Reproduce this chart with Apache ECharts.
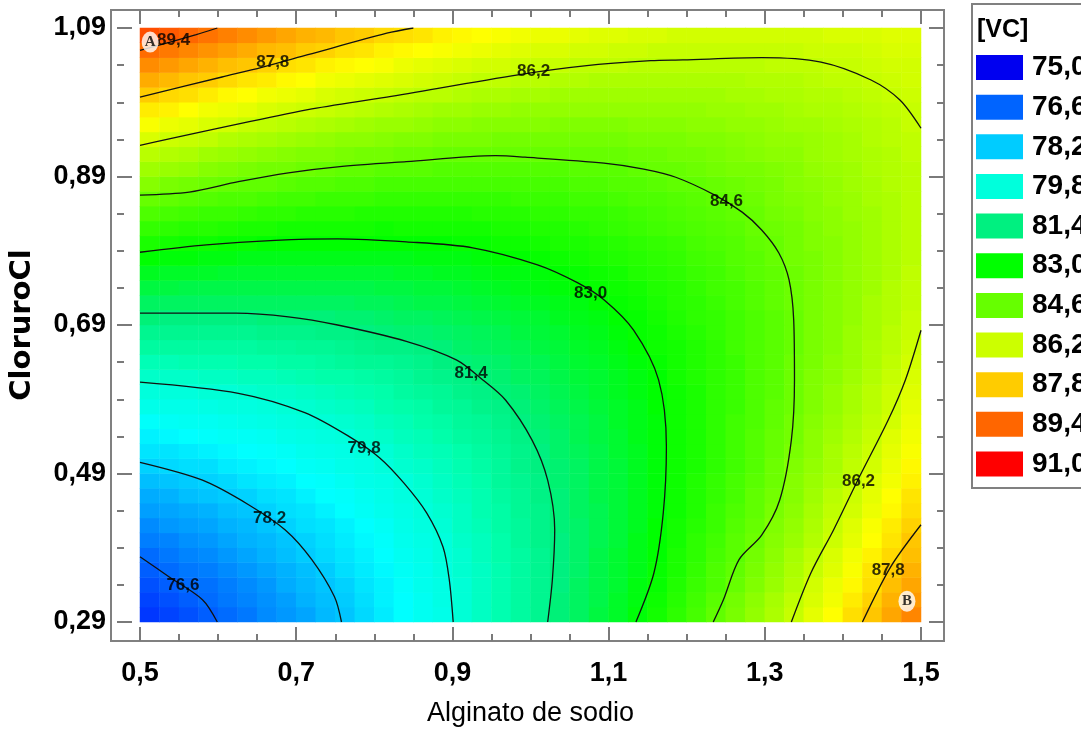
<!DOCTYPE html>
<html>
<head>
<meta charset="utf-8">
<script src="https://cdn.jsdelivr.net/npm/echarts@6/dist/echarts.min.js"></script>
<style>
  html, body { margin: 0; background: #fff; }
  #chart { width: 1081px; height: 734px; }
</style>
</head>
<body>
<div id="chart"></div>
<script>
const SANS = "'Liberation Sans', Arial, sans-serif";

// cell centres of the response surface (Alginato de sodio / CloruroCl)
const xCells = [0.5125, 0.5375, 0.5625, 0.5875, 0.6125, 0.6375, 0.6625, 0.6875, 0.7125, 0.7375,
                0.7625, 0.7875, 0.8125, 0.8375, 0.8625, 0.8875, 0.9125, 0.9375, 0.9625, 0.9875,
                1.0125, 1.0375, 1.0625, 1.0875, 1.1125, 1.1375, 1.1625, 1.1875, 1.2125, 1.2375,
                1.2625, 1.2875, 1.3125, 1.3375, 1.3625, 1.3875, 1.4125, 1.4375, 1.4625, 1.4875];
const yCells = [0.30, 0.32, 0.34, 0.36, 0.38, 0.40, 0.42, 0.44, 0.46, 0.48,
                0.50, 0.52, 0.54, 0.56, 0.58, 0.60, 0.62, 0.64, 0.66, 0.68,
                0.70, 0.72, 0.74, 0.76, 0.78, 0.80, 0.82, 0.84, 0.86, 0.88,
                0.90, 0.92, 0.94, 0.96, 0.98, 1.00, 1.02, 1.04, 1.06, 1.08];

// [VC] read row by row, bottom (0,30) to top (1,08)
const r030 = [75.9,76.1,76.3,76.5,76.7,76.9,77.2,77.4,77.6,77.9,78.1,78.4,78.7,79.0,79.3,79.5,79.9,80.2,80.5,80.8,81.1,81.5,81.8,82.2,82.5,82.9,83.3,83.7,84.1,84.5,84.9,85.3,85.7,86.1,86.6,87.0,87.5,87.9,88.4,88.9];
const r032 = [76.1,76.3,76.5,76.7,76.9,77.1,77.3,77.5,77.8,78.0,78.2,78.5,78.8,79.0,79.3,79.6,79.9,80.2,80.5,80.8,81.1,81.5,81.8,82.1,82.5,82.8,83.2,83.6,84.0,84.4,84.8,85.2,85.6,86.0,86.4,86.8,87.3,87.7,88.2,88.6];
const r034 = [76.3,76.5,76.7,76.8,77.0,77.2,77.4,77.7,77.9,78.1,78.3,78.6,78.8,79.1,79.4,79.6,79.9,80.2,80.5,80.8,81.1,81.4,81.8,82.1,82.4,82.8,83.1,83.5,83.9,84.2,84.6,85.0,85.4,85.8,86.3,86.7,87.1,87.5,88.0,88.4];
const r036 = [76.5,76.7,76.9,77.0,77.2,77.4,77.6,77.8,78.0,78.2,78.5,78.7,78.9,79.2,79.4,79.7,80.0,80.2,80.5,80.8,81.1,81.4,81.7,82.1,82.4,82.7,83.1,83.4,83.8,84.2,84.5,84.9,85.3,85.7,86.1,86.5,86.9,87.4,87.8,88.2];
const r038 = [76.7,76.9,77.1,77.2,77.4,77.6,77.8,78.0,78.2,78.4,78.6,78.8,79.0,79.3,79.5,79.8,80.0,80.3,80.6,80.8,81.1,81.4,81.7,82.1,82.4,82.7,83.0,83.4,83.7,84.1,84.4,84.8,85.2,85.6,86.0,86.4,86.8,87.2,87.6,88.0];
const r040 = [77.0,77.1,77.3,77.4,77.6,77.8,77.9,78.1,78.3,78.5,78.7,78.9,79.1,79.4,79.6,79.8,80.1,80.3,80.6,80.9,81.2,81.4,81.7,82.0,82.3,82.7,83.0,83.3,83.7,84.0,84.4,84.7,85.1,85.4,85.8,86.2,86.6,87.0,87.4,87.9];
const r042 = [77.2,77.4,77.5,77.6,77.8,77.9,78.1,78.3,78.5,78.6,78.8,79.0,79.2,79.5,79.7,79.9,80.2,80.4,80.7,80.9,81.2,81.5,81.7,82.0,82.3,82.6,83.0,83.3,83.6,83.9,84.3,84.6,85.0,85.3,85.7,86.1,86.5,86.9,87.3,87.7];
const r044 = [77.5,77.6,77.7,77.8,78.0,78.1,78.3,78.5,78.6,78.8,79.0,79.2,79.4,79.6,79.8,80.0,80.2,80.5,80.7,81.0,81.2,81.5,81.8,82.0,82.3,82.6,82.9,83.2,83.5,83.9,84.2,84.5,84.9,85.2,85.6,86.0,86.3,86.7,87.1,87.5];
const r046 = [77.7,77.8,78.0,78.1,78.2,78.3,78.5,78.6,78.8,79.0,79.1,79.3,79.5,79.7,79.9,80.1,80.3,80.5,80.8,81.0,81.3,81.5,81.8,82.1,82.3,82.6,82.9,83.2,83.5,83.8,84.1,84.5,84.8,85.1,85.5,85.9,86.2,86.6,87.0,87.4];
const r048 = [78.0,78.1,78.2,78.3,78.4,78.6,78.7,78.8,79.0,79.1,79.3,79.5,79.6,79.8,80.0,80.2,80.4,80.6,80.9,81.1,81.3,81.6,81.8,82.1,82.3,82.6,82.9,83.2,83.5,83.8,84.1,84.4,84.7,85.1,85.4,85.7,86.1,86.5,86.8,87.2];
const r050 = [78.3,78.4,78.5,78.5,78.7,78.8,78.9,79.0,79.2,79.3,79.5,79.6,79.8,80.0,80.1,80.3,80.5,80.7,80.9,81.2,81.4,81.6,81.8,82.1,82.3,82.6,82.9,83.2,83.4,83.7,84.0,84.3,84.7,85.0,85.3,85.6,86.0,86.3,86.7,87.1];
const r052 = [78.6,78.6,78.7,78.8,78.9,79.0,79.1,79.2,79.4,79.5,79.6,79.8,79.9,80.1,80.3,80.4,80.6,80.8,81.0,81.2,81.4,81.7,81.9,82.1,82.4,82.6,82.9,83.2,83.4,83.7,84.0,84.3,84.6,84.9,85.2,85.6,85.9,86.2,86.6,86.9];
const r054 = [78.8,78.9,79.0,79.1,79.2,79.2,79.3,79.5,79.6,79.7,79.8,80.0,80.1,80.3,80.4,80.6,80.8,80.9,81.1,81.3,81.5,81.7,82.0,82.2,82.4,82.7,82.9,83.2,83.4,83.7,84.0,84.3,84.6,84.8,85.2,85.5,85.8,86.1,86.5,86.8];
const r056 = [79.1,79.2,79.3,79.3,79.4,79.5,79.6,79.7,79.8,79.9,80.0,80.1,80.3,80.4,80.6,80.7,80.9,81.0,81.2,81.4,81.6,81.8,82.0,82.2,82.5,82.7,82.9,83.2,83.4,83.7,84.0,84.2,84.5,84.8,85.1,85.4,85.7,86.0,86.3,86.7];
const r058 = [79.5,79.5,79.5,79.6,79.7,79.7,79.8,79.9,80.0,80.1,80.2,80.3,80.5,80.6,80.7,80.9,81.0,81.2,81.3,81.5,81.7,81.9,82.1,82.3,82.5,82.7,83.0,83.2,83.4,83.7,83.9,84.2,84.5,84.7,85.0,85.3,85.6,85.9,86.2,86.6];
const r060 = [79.8,79.8,79.8,79.9,79.9,80.0,80.1,80.1,80.2,80.3,80.4,80.5,80.6,80.8,80.9,81.0,81.2,81.3,81.5,81.6,81.8,82.0,82.2,82.4,82.6,82.8,83.0,83.2,83.4,83.7,83.9,84.2,84.4,84.7,85.0,85.3,85.6,85.9,86.2,86.5];
const r062 = [80.1,80.1,80.1,80.2,80.2,80.3,80.3,80.4,80.5,80.6,80.6,80.7,80.8,80.9,81.1,81.2,81.3,81.5,81.6,81.8,81.9,82.1,82.3,82.4,82.6,82.8,83.0,83.3,83.5,83.7,83.9,84.2,84.4,84.7,85.0,85.2,85.5,85.8,86.1,86.4];
const r064 = [80.4,80.4,80.5,80.5,80.5,80.6,80.6,80.7,80.7,80.8,80.9,81.0,81.0,81.1,81.2,81.4,81.5,81.6,81.7,81.9,82.0,82.2,82.4,82.5,82.7,82.9,83.1,83.3,83.5,83.7,83.9,84.2,84.4,84.7,84.9,85.2,85.4,85.7,86.0,86.3];
const r066 = [80.8,80.8,80.8,80.8,80.8,80.8,80.9,80.9,81.0,81.0,81.1,81.2,81.3,81.3,81.4,81.5,81.7,81.8,81.9,82.0,82.2,82.3,82.5,82.6,82.8,83.0,83.2,83.3,83.5,83.7,84.0,84.2,84.4,84.6,84.9,85.1,85.4,85.7,85.9,86.2];
const r068 = [81.1,81.1,81.1,81.1,81.1,81.1,81.2,81.2,81.2,81.3,81.3,81.4,81.5,81.6,81.6,81.7,81.8,81.9,82.0,82.2,82.3,82.4,82.6,82.7,82.9,83.1,83.2,83.4,83.6,83.8,84.0,84.2,84.4,84.6,84.9,85.1,85.4,85.6,85.9,86.1];
const r070 = [81.5,81.4,81.4,81.4,81.4,81.4,81.5,81.5,81.5,81.5,81.6,81.6,81.7,81.8,81.8,81.9,82.0,82.1,82.2,82.3,82.4,82.6,82.7,82.8,83.0,83.1,83.3,83.5,83.7,83.8,84.0,84.2,84.4,84.6,84.9,85.1,85.3,85.6,85.8,86.1];
const r072 = [81.8,81.8,81.8,81.8,81.8,81.8,81.8,81.8,81.8,81.8,81.8,81.9,81.9,82.0,82.1,82.1,82.2,82.3,82.4,82.5,82.6,82.7,82.8,83.0,83.1,83.2,83.4,83.6,83.7,83.9,84.1,84.3,84.5,84.7,84.9,85.1,85.3,85.6,85.8,86.0];
const r074 = [82.2,82.2,82.1,82.1,82.1,82.1,82.1,82.1,82.1,82.1,82.1,82.1,82.2,82.2,82.3,82.3,82.4,82.5,82.6,82.7,82.8,82.9,83.0,83.1,83.2,83.3,83.5,83.6,83.8,84.0,84.1,84.3,84.5,84.7,84.9,85.1,85.3,85.5,85.8,86.0];
const r076 = [82.6,82.5,82.5,82.5,82.4,82.4,82.4,82.4,82.4,82.4,82.4,82.4,82.4,82.5,82.5,82.6,82.6,82.7,82.8,82.8,82.9,83.0,83.1,83.2,83.3,83.5,83.6,83.7,83.9,84.0,84.2,84.4,84.5,84.7,84.9,85.1,85.3,85.5,85.7,86.0];
const r078 = [83.0,82.9,82.9,82.8,82.8,82.7,82.7,82.7,82.7,82.7,82.7,82.7,82.7,82.7,82.8,82.8,82.8,82.9,83.0,83.0,83.1,83.2,83.3,83.4,83.5,83.6,83.7,83.8,84.0,84.1,84.3,84.4,84.6,84.8,84.9,85.1,85.3,85.5,85.7,85.9];
const r080 = [83.4,83.3,83.2,83.2,83.1,83.1,83.0,83.0,83.0,83.0,83.0,83.0,83.0,83.0,83.0,83.0,83.1,83.1,83.2,83.2,83.3,83.4,83.4,83.5,83.6,83.7,83.8,83.9,84.1,84.2,84.3,84.5,84.6,84.8,85.0,85.1,85.3,85.5,85.7,85.9];
const r082 = [83.8,83.7,83.6,83.6,83.5,83.4,83.4,83.3,83.3,83.3,83.3,83.3,83.2,83.3,83.3,83.3,83.3,83.3,83.4,83.4,83.5,83.5,83.6,83.7,83.8,83.9,84.0,84.1,84.2,84.3,84.4,84.6,84.7,84.8,85.0,85.2,85.3,85.5,85.7,85.9];
const r084 = [84.2,84.1,84.0,83.9,83.9,83.8,83.7,83.7,83.6,83.6,83.6,83.5,83.5,83.5,83.5,83.5,83.5,83.6,83.6,83.6,83.7,83.7,83.8,83.8,83.9,84.0,84.1,84.2,84.3,84.4,84.5,84.6,84.8,84.9,85.1,85.2,85.4,85.5,85.7,85.9];
const r086 = [84.6,84.5,84.4,84.3,84.2,84.2,84.1,84.0,84.0,83.9,83.9,83.9,83.8,83.8,83.8,83.8,83.8,83.8,83.8,83.9,83.9,83.9,84.0,84.0,84.1,84.2,84.2,84.3,84.4,84.5,84.6,84.7,84.9,85.0,85.1,85.3,85.4,85.6,85.7,85.9];
const r088 = [85.1,84.9,84.8,84.7,84.6,84.5,84.5,84.4,84.3,84.3,84.2,84.2,84.1,84.1,84.1,84.1,84.1,84.1,84.1,84.1,84.1,84.1,84.2,84.2,84.3,84.3,84.4,84.5,84.5,84.6,84.7,84.8,84.9,85.1,85.2,85.3,85.5,85.6,85.8,85.9];
const r090 = [85.5,85.4,85.3,85.1,85.0,84.9,84.8,84.8,84.7,84.6,84.5,84.5,84.4,84.4,84.4,84.3,84.3,84.3,84.3,84.3,84.3,84.3,84.4,84.4,84.4,84.5,84.6,84.6,84.7,84.8,84.9,84.9,85.0,85.1,85.3,85.4,85.5,85.7,85.8,85.9];
const r092 = [85.9,85.8,85.7,85.5,85.4,85.3,85.2,85.1,85.0,85.0,84.9,84.8,84.8,84.7,84.7,84.6,84.6,84.6,84.6,84.6,84.6,84.6,84.6,84.6,84.6,84.7,84.7,84.8,84.8,84.9,85.0,85.1,85.2,85.2,85.4,85.5,85.6,85.7,85.8,86.0];
const r094 = [86.4,86.2,86.1,86.0,85.8,85.7,85.6,85.5,85.4,85.3,85.2,85.2,85.1,85.0,85.0,84.9,84.9,84.9,84.8,84.8,84.8,84.8,84.8,84.8,84.8,84.9,84.9,84.9,85.0,85.0,85.1,85.2,85.3,85.3,85.4,85.5,85.6,85.8,85.9,86.0];
const r096 = [86.9,86.7,86.6,86.4,86.3,86.1,86.0,85.9,85.8,85.7,85.6,85.5,85.4,85.4,85.3,85.2,85.2,85.1,85.1,85.1,85.1,85.0,85.0,85.0,85.0,85.1,85.1,85.1,85.2,85.2,85.3,85.3,85.4,85.5,85.5,85.6,85.7,85.8,85.9,86.1];
const r098 = [87.3,87.2,87.0,86.8,86.7,86.6,86.4,86.3,86.2,86.1,86.0,85.9,85.8,85.7,85.6,85.5,85.5,85.4,85.4,85.3,85.3,85.3,85.3,85.3,85.3,85.3,85.3,85.3,85.3,85.4,85.4,85.5,85.5,85.6,85.7,85.7,85.8,85.9,86.0,86.1];
const r100 = [87.8,87.6,87.5,87.3,87.1,87.0,86.8,86.7,86.6,86.4,86.3,86.2,86.1,86.0,85.9,85.9,85.8,85.7,85.7,85.6,85.6,85.5,85.5,85.5,85.5,85.5,85.5,85.5,85.5,85.5,85.6,85.6,85.7,85.7,85.8,85.8,85.9,86.0,86.1,86.2];
const r102 = [88.3,88.1,87.9,87.8,87.6,87.4,87.3,87.1,87.0,86.8,86.7,86.6,86.5,86.4,86.3,86.2,86.1,86.0,86.0,85.9,85.9,85.8,85.8,85.7,85.7,85.7,85.7,85.7,85.7,85.7,85.7,85.8,85.8,85.8,85.9,86.0,86.0,86.1,86.2,86.3];
const r104 = [88.8,88.6,88.4,88.2,88.0,87.9,87.7,87.5,87.4,87.2,87.1,87.0,86.9,86.7,86.6,86.5,86.4,86.3,86.3,86.2,86.1,86.1,86.0,86.0,86.0,85.9,85.9,85.9,85.9,85.9,85.9,85.9,86.0,86.0,86.0,86.1,86.1,86.2,86.3,86.3];
const r106 = [89.3,89.1,88.9,88.7,88.5,88.3,88.1,88.0,87.8,87.7,87.5,87.4,87.2,87.1,87.0,86.9,86.8,86.7,86.6,86.5,86.4,86.4,86.3,86.3,86.2,86.2,86.1,86.1,86.1,86.1,86.1,86.1,86.1,86.1,86.2,86.2,86.2,86.3,86.4,86.4];
const r108 = [89.8,89.6,89.4,89.2,89.0,88.8,88.6,88.4,88.2,88.1,87.9,87.8,87.6,87.5,87.4,87.2,87.1,87.0,86.9,86.8,86.7,86.7,86.6,86.5,86.5,86.4,86.4,86.3,86.3,86.3,86.3,86.3,86.3,86.3,86.3,86.4,86.4,86.4,86.5,86.5];
const vcRows = [r030, r032, r034, r036, r038, r040, r042, r044, r046, r048,
                r050, r052, r054, r056, r058, r060, r062, r064, r066, r068,
                r070, r072, r074, r076, r078, r080, r082, r084, r086, r088,
                r090, r092, r094, r096, r098, r100, r102, r104, r106, r108];

// colour scale shown in the legend box
const levels = [75.0, 76.6, 78.2, 79.8, 81.4, 83.0, 84.6, 86.2, 87.8, 89.4, 91.0];
const levelColors = ['#0000f0', '#0064ff', '#00ccff', '#00ffdc', '#00f080', '#00ff00',
                     '#66ff00', '#ccff00', '#ffcc00', '#ff6600', '#ff0000'];
// the surface itself runs through the full spectrum (stops every 0,8)
const surfaceColors = ['#0000f0', '#0030ff', '#0064ff', '#0098ff', '#00ccff', '#00ffff',
                       '#00ffdc', '#00ffaa', '#00f080', '#00f840', '#00ff00', '#33ff00',
                       '#66ff00', '#99ff00', '#ccff00', '#ffff00', '#ffcc00', '#ff9900',
                       '#ff6600', '#ff3300', '#ff0000'];

// contour lines
const c894 = [[0.5, 1.060], [0.572, 1.081], [0.599, 1.09]];
const c878a = [[0.5, 0.997], [0.605, 1.024], [0.656, 1.037], [0.715, 1.054], [0.816, 1.083], [0.850, 1.09]];
const c862a = [[0.5, 0.932], [0.715, 0.980], [0.816, 0.997], [0.984, 1.027], [1.069, 1.039], [1.154, 1.046],
               [1.195, 1.047], [1.296, 1.050], [1.372, 1.044], [1.436, 1.020], [1.473, 0.993], [1.5, 0.955]];
const c846 = [[0.5, 0.865], [0.563, 0.869], [0.626, 0.883], [0.690, 0.895], [0.753, 0.903], [0.841, 0.910],
              [0.955, 0.918], [0.993, 0.916], [1.094, 0.908], [1.145, 0.900], [1.186, 0.889], [1.236, 0.865],
              [1.271, 0.842], [1.296, 0.818], [1.318, 0.787], [1.331, 0.751], [1.337, 0.697], [1.338, 0.616],
              [1.334, 0.535], [1.319, 0.454], [1.296, 0.407], [1.267, 0.374], [1.247, 0.320], [1.234, 0.29]];
const c830 = [[0.5, 0.788], [0.585, 0.798], [0.673, 0.804], [0.753, 0.806], [0.841, 0.802], [0.926, 0.794],
              [1.009, 0.771], [1.060, 0.747], [1.094, 0.724], [1.132, 0.683], [1.164, 0.616], [1.174, 0.526],
              [1.170, 0.437], [1.158, 0.356], [1.135, 0.29]];
const c814 = [[0.5, 0.706], [0.623, 0.706], [0.690, 0.701], [0.753, 0.690], [0.841, 0.668], [0.905, 0.643],
              [0.939, 0.616], [0.968, 0.589], [1.002, 0.535], [1.022, 0.481], [1.031, 0.414], [1.028, 0.347],
              [1.022, 0.29]];
const c798 = [[0.5, 0.613], [0.626, 0.598], [0.711, 0.572], [0.769, 0.539], [0.807, 0.511], [0.838, 0.477],
              [0.867, 0.437], [0.888, 0.391], [0.896, 0.347], [0.901, 0.29]];
const c782 = [[0.5, 0.505], [0.580, 0.481], [0.639, 0.448], [0.686, 0.414], [0.720, 0.374], [0.749, 0.324], [0.758, 0.29]];
const c766 = [[0.5, 0.378], [0.537, 0.351], [0.580, 0.320], [0.599, 0.29]];
const c862b = [[1.5, 0.683], [1.480, 0.616], [1.458, 0.562], [1.419, 0.481], [1.388, 0.414], [1.359, 0.356], [1.334, 0.29]];
const c878b = [[1.5, 0.421], [1.461, 0.364], [1.425, 0.29]];
const contourLines = [c894, c878a, c862a, c846, c830, c814, c798, c782, c766, c862b, c878b];

// contour labels [x, y, level]
const contourLabels = [[0.543, 1.074, 89.4], [0.670, 1.044, 87.8], [1.004, 1.031, 86.2], [1.251, 0.856, 84.6],
                       [1.077, 0.733, 83.0], [0.924, 0.625, 81.4], [0.787, 0.524, 79.8], [0.666, 0.430, 78.2],
                       [0.555, 0.340, 76.6], [1.420, 0.479, 86.2], [1.458, 0.360, 87.8]];

const pointMarks = [[0.513, 1.071, 'A'], [1.482, 0.318, 'B']];

const comma = (v, d) => v.toFixed(d).replace('.', ',');

const heatData = [];
vcRows.forEach((row, j) => row.forEach((v, i) => heatData.push([i, j, v])));

const tickStyle = { color: '#7a7a7a', width: 2 };

const legendGraphic = [
  { type: 'rect', shape: { x: 972, y: 4, width: 140, height: 484 },
    style: { fill: '#fff', stroke: '#808080', lineWidth: 2 } },
  { type: 'text', style: { x: 977, y: 30, text: '[VC]', font: `bold 25px ${SANS}`, fill: '#000', verticalAlign: 'middle' } }
];
levels.forEach((lv, i) => {
  const cy = 67.5 + i * 39.65;
  legendGraphic.push({ type: 'rect', shape: { x: 976, y: cy - 12.5, width: 47, height: 25 }, style: { fill: levelColors[i] } });
  legendGraphic.push({ type: 'text', style: { x: 1032, y: cy, text: comma(lv, 1), font: `bold 28px ${SANS}`, fill: '#000', verticalAlign: 'middle' } });
});

const chart = echarts.init(document.getElementById('chart'));

chart.setOption({
  animation: false,
  backgroundColor: '#fff',
  grid: [
    { left: 134, top: 28, width: 787, height: 594 },
    { left: 111, top: 10, width: 833, height: 631, show: true, borderColor: '#808080', borderWidth: 2, backgroundColor: 'transparent' }
  ],
  xAxis: [
    { type: 'category', gridIndex: 0, data: xCells, show: false },
    {
      type: 'value', gridIndex: 0, min: 0.5, max: 1.5, interval: 0.2, position: 'bottom', offset: 19,
      axisLine: { show: false },
      axisTick: { inside: true, length: 14, lineStyle: tickStyle },
      minorTick: { show: true, splitNumber: 4, length: 7, lineStyle: tickStyle },
      splitLine: { show: false },
      axisLabel: { formatter: v => comma(v, 1), margin: 19, color: '#000', fontSize: 27, fontWeight: 'bold', fontFamily: SANS },
      name: 'Alginato de sodio', nameLocation: 'middle', nameGap: 59,
      nameTextStyle: { color: '#000', fontSize: 27, fontFamily: SANS }
    },
    {
      type: 'value', gridIndex: 0, min: 0.5, max: 1.5, interval: 0.2, position: 'top', offset: 18,
      axisLine: { show: false },
      axisTick: { inside: true, length: 14, lineStyle: tickStyle },
      minorTick: { show: true, splitNumber: 4, length: 7, lineStyle: tickStyle },
      splitLine: { show: false }, axisLabel: { show: false }
    },
    { type: 'value', gridIndex: 1, show: false, min: 0, max: 1 }
  ],
  yAxis: [
    { type: 'category', gridIndex: 0, data: yCells, show: false },
    {
      type: 'value', gridIndex: 0, min: 0.29, max: 1.09, interval: 0.2, position: 'left', offset: 23,
      axisLine: { show: false },
      axisTick: { inside: true, length: 15, lineStyle: tickStyle },
      minorTick: { show: true, splitNumber: 4, length: 7, lineStyle: tickStyle },
      splitLine: { show: false },
      axisLabel: { formatter: v => comma(v, 2), margin: 11, color: '#000', fontSize: 27, fontWeight: 'bold', fontFamily: SANS },
      name: 'CloruroCl', nameLocation: 'middle', nameGap: 80, nameRotate: 90,
      nameTextStyle: { color: '#000', fontSize: 29, fontWeight: 'bold', fontFamily: "'DejaVu Sans', sans-serif" }
    },
    {
      type: 'value', gridIndex: 0, min: 0.29, max: 1.09, interval: 0.2, position: 'right', offset: 23,
      axisLine: { show: false },
      axisTick: { inside: true, length: 15, lineStyle: tickStyle },
      minorTick: { show: true, splitNumber: 4, length: 7, lineStyle: tickStyle },
      splitLine: { show: false }, axisLabel: { show: false }
    },
    { type: 'value', gridIndex: 1, show: false, min: 0, max: 1 }
  ],
  visualMap: {
    show: false, type: 'continuous', seriesIndex: 0, dimension: 2,
    min: levels[0], max: levels[levels.length - 1],
    inRange: { color: surfaceColors }
  },
  graphic: legendGraphic,
  series: [
    {
      type: 'heatmap', xAxisIndex: 0, yAxisIndex: 0, data: heatData,
      itemStyle: { borderWidth: 0 }, emphasis: { disabled: true }, silent: true
    },
    ...contourLines.map(pts => ({
      type: 'line', xAxisIndex: 1, yAxisIndex: 1, data: pts, symbol: 'none', smooth: 0.3,
      lineStyle: { color: '#111', width: 1.3 }, silent: true, z: 3
    })),
    {
      type: 'scatter', xAxisIndex: 1, yAxisIndex: 1, data: contourLabels, symbolSize: 0, silent: true, z: 4,
      label: {
        show: true, position: 'inside', formatter: p => comma(p.value[2], 1),
        color: '#000', fontSize: 17, fontWeight: 'bold', fontFamily: SANS
      }
    },
    {
      type: 'scatter', xAxisIndex: 1, yAxisIndex: 1, data: pointMarks, symbol: 'circle', symbolSize: [17, 21],
      itemStyle: { color: '#fff' }, silent: true, z: 5,
      label: {
        show: true, position: 'inside', formatter: p => p.value[2],
        color: '#000', fontSize: 15, fontWeight: 'bold', fontFamily: "'Liberation Serif', serif"
      }
    }
  ]
});
</script>
</body>
</html>
